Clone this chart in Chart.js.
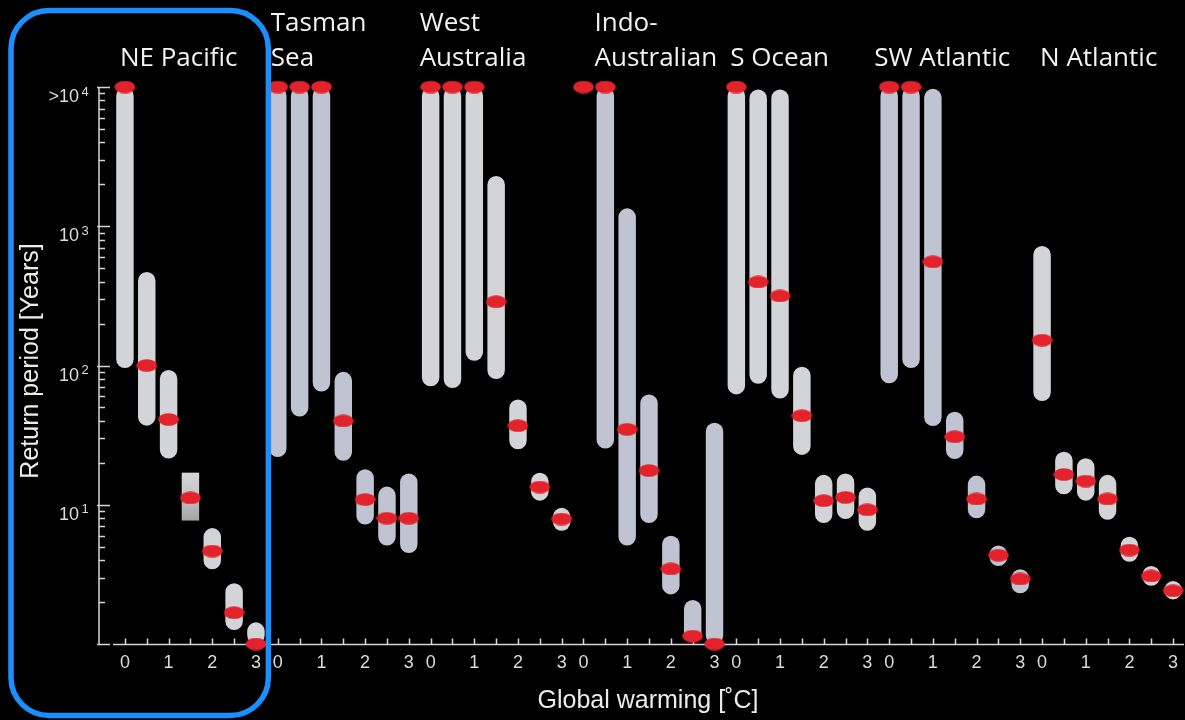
<!DOCTYPE html>
<html>
<head>
<meta charset="utf-8">
<title>Return period of marine heatwaves by region and warming level</title>
<script src="https://cdn.jsdelivr.net/npm/chart.js@4/dist/chart.umd.min.js"></script>
<style>
  html, body { margin: 0; padding: 0; background: #000; }
  #wrap { width: 1185px; height: 720px; position: relative; }
  canvas { display: block; }
</style>
</head>
<body>
<div id="wrap"><canvas id="chart" width="1185" height="720"></canvas></div>
<script>
// Ocean regions, left to right
const regions = ['NE Pacific', 'Tasman Sea', 'West Australia', 'Indo-Australian', 'S Ocean', 'SW Atlantic', 'N Atlantic'];
// How each region title is broken into lines
const regionTitleLines = [['NE Pacific'], ['Tasman', 'Sea'], ['West', 'Australia'], ['Indo-', 'Australian'], ['S Ocean'], ['SW Atlantic'], ['N Atlantic']];
// Global warming levels (°C) within each region
const warming = [0, 0.5, 1, 1.5, 2, 2.5, 3];
// Labels under the warming axis (only whole degrees are labelled)
const warmingTickLabels = ['0', '', '1', '', '2', '', '3'];

// Return period range, lower end (years); 7 values per region, null = no range bar
const lowerBound = [
  96,   37,   21.5, 7.7,  3.44, 1.26, 1.0,    // NE Pacific
  22,   43,   65,   20.7, 7.2,  5.1,  4.5,    // Tasman Sea
  71,   69,   108,  80,   25,   10.7, 6.5,    // West Australia
  null, 25.3, 5.1,  7.4,  2.27, 1.04, 1.0,    // Indo-Australian
  62,   74,   58,   22.8, 7.4,  7.9,  6.5,    // S Ocean
  74.5, 96,   36.8, 21.3, 8.0,  3.63, 2.31,   // SW Atlantic
  55.6, 11.9, 10.7, 7.8,  3.9,  2.62, 2.09    // N Atlantic
];
// Return period range, upper end (years)
const upperBound = [
  10000, 470,   93,    17,   6.8,  2.73, 1.43,
  10000, 10000, 10000, 90,   18,   13.5, 16.8,
  10000, 10000, 10000, 2300, 57,   17,   9.5,
  null,  10000, 1345,  62,   6.0,  2.07, 38.8,
  10000, 9600,  9600,  98,   16.4, 16.8, 13.3,
  10000, 10000, 9700,  46.6, 16.2, 5.1,  3.44,
  721,   24,    21.6,  16.4, 5.9,  3.63, 2.83
];
// Best estimate return period (years); 10000 stands for ">10^4"
const bestEstimate = [
  10000, 100,   41,    11.2, 4.65, 1.68, 1.0,
  10000, 10000, 10000, 40,   10.9, 8.0,  8.0,
  10000, 10000, 10000, 287,  37,   13.4, 7.9,
  10000, 10000, 34.8,  17.6, 3.46, 1.14, 1.0,
  10000, 398,   316,   43.6, 10.7, 11.3, 9.2,
  10000, 10000, 556,   30.8, 11.0, 4.34, 2.93,
  152,   16.5,  14.8,  11.0, 4.73, 3.08, 2.41
];

// Return period axis: decade ticks and their labels
const yTickValues = [10, 100, 1000, 10000];
const yTickBase = ['10', '10', '10', '>10'];
const yTickExp = ['1', '2', '3', '4'];

// ---- styling ----
const GREY = '#d2d4d7';
const BLUEGREY = '#bfc3d2';
const RED = '#e3222b';
const AXIS = '#d6d6d6';
const HIGHLIGHT = '#1a8fff';
const BOXED_BAR = 3;                       // NE Pacific 1.5 °C is drawn as a plain box
const titleNudge = [-5, -7, -11, 11, -6, -15, -2];

// one category per region / warming level
const labels = [];
const regionOf = [];
regions.forEach((r, ri) => warming.forEach((w, wi) => {
  labels.push(r + ' ' + w + '°C');
  regionOf.push(ri);
}));
const ranges = lowerBound.map((lo, i) => (lo === null ? null : [lo, upperBound[i]]));

// red ellipse used for the best estimate marker
function makeEllipse() {
  const c = document.createElement('canvas');
  c.width = 21; c.height = 13;
  const g = c.getContext('2d');
  g.fillStyle = RED;
  g.beginPath();
  g.ellipse(10.5, 6.5, 10.3, 6.3, 0, 0, Math.PI * 2);
  g.fill();
  return c;
}
const ellipse = makeEllipse();

function barColor(ctx) {
  const i = ctx.dataIndex;
  if (i === BOXED_BAR) {
    const chart = ctx.chart;
    const y = chart.scales && chart.scales.y;
    if (!chart.chartArea || !y || !isFinite(y.getPixelForValue(10))) return '#b8babd';
    const top = y.getPixelForValue(upperBound[i]);
    const bot = y.getPixelForValue(lowerBound[i]);
    const gr = chart.ctx.createLinearGradient(0, top, 0, bot);
    gr.addColorStop(0, '#d3d5d7');
    gr.addColorStop(0.45, '#c4c6c8');
    gr.addColorStop(1, '#a2a4a6');
    return gr;
  }
  return regionOf[i] % 2 === 0 ? GREY : BLUEGREY;
}

// axes, tick marks, titles and the highlight frame
const decorations = {
  id: 'decorations',
  beforeDatasetsDraw(chart) {
    const { ctx, chartArea: a, scales: { x, y } } = chart;
    ctx.save();
    ctx.strokeStyle = AXIS;
    ctx.fillStyle = AXIS;
    ctx.lineWidth = 1.5;
    const yAxisX = a.left - 15;
    // vertical axis with inward ticks
    ctx.beginPath();
    ctx.moveTo(yAxisX, y.getPixelForValue(10000));
    ctx.lineTo(yAxisX, y.getPixelForValue(1));
    for (let d = 0; d <= 4; d++) {
      const base = Math.pow(10, d);
      const py = Math.round(y.getPixelForValue(base)) + 0.5;
      ctx.moveTo(yAxisX - 2, py);
      ctx.lineTo(yAxisX + 11, py);
      if (d < 4) {
        for (let m = 2; m <= 9; m++) {
          const my = Math.round(y.getPixelForValue(base * m)) + 0.5;
          ctx.moveTo(yAxisX, my);
          ctx.lineTo(yAxisX + 6, my);
        }
      }
    }
    ctx.stroke();
    // horizontal axis with inward ticks
    const by = Math.round(y.getPixelForValue(1)) + 0.5;
    ctx.beginPath();
    ctx.moveTo(a.left - 1, by);
    ctx.lineTo(a.right, by);
    labels.forEach((_, i) => {
      const px = Math.round(x.getPixelForValue(i)) + 0.5;
      ctx.moveTo(px, by);
      ctx.lineTo(px, by - 6);
    });
    ctx.stroke();
    ctx.restore();
  },
  afterDraw(chart) {
    const { ctx, chartArea: a, scales: { x, y } } = chart;
    ctx.save();
    // decade labels
    ctx.fillStyle = '#dcdcdc';
    yTickValues.forEach((v, k) => {
      const py = y.getPixelForValue(v);
      ctx.font = '18px "Liberation Sans", Arial, sans-serif';
      ctx.textAlign = 'right';
      ctx.textBaseline = 'alphabetic';
      ctx.fillText(yTickBase[k], 79, py + 15);
      ctx.font = '13px "Liberation Sans", Arial, sans-serif';
      ctx.textAlign = 'left';
      ctx.fillText(yTickExp[k], 81.5, py + 8.5);
    });
    // warming labels
    ctx.font = '18px "Liberation Sans", Arial, sans-serif';
    ctx.textAlign = 'center';
    labels.forEach((_, i) => {
      const t = warmingTickLabels[i % warming.length];
      if (t) ctx.fillText(t, x.getPixelForValue(i), a.bottom + 24);
    });
    // axis titles
    ctx.fillStyle = '#ececec';
    ctx.font = '25px "Liberation Sans", Arial, sans-serif';
    ctx.fillText('Global warming [˚C]', 648, 708);
    ctx.save();
    ctx.translate(37.5, 361);
    ctx.rotate(-Math.PI / 2);
    ctx.fillText('Return period [Years]', 0, 0);
    ctx.restore();
    // region titles
    ctx.fillStyle = '#f2f2f2';
    ctx.font = '26px "Open Sans", "Noto Sans", sans-serif';
    ctx.textAlign = 'left';
    regionTitleLines.forEach((lines, ri) => {
      const px = x.getPixelForValue(ri * warming.length) + titleNudge[ri];
      lines.forEach((line, li) => {
        const base = 66 - (lines.length - 1 - li) * 35;
        ctx.fillText(line, px, base);
      });
    });
    // highlight frame around the first region
    const right = (x.getPixelForValue(warming.length - 1) + x.getPixelForValue(warming.length)) / 2 + 1.5;
    ctx.strokeStyle = HIGHLIGHT;
    ctx.lineWidth = 5.5;
    ctx.beginPath();
    ctx.roundRect(11, 10.5, right - 11, 705, 38);
    ctx.stroke();
    ctx.restore();
  }
};

new Chart(document.getElementById('chart'), {
  type: 'bar',
  data: {
    labels: labels,
    datasets: [
      {
        label: 'Range',
        data: ranges,
        backgroundColor: barColor,
        borderWidth: 0,
        borderSkipped: false,
        borderRadius: (ctx) => (ctx.dataIndex === BOXED_BAR ? 0 : 20),
        barPercentage: 0.8,
        categoryPercentage: 1.0,
        clip: false,
        order: 2
      },
      {
        type: 'line',
        label: 'Best estimate',
        data: bestEstimate,
        showLine: false,
        pointStyle: ellipse,
        pointRadius: 10,
        clip: false,
        order: 1
      }
    ]
  },
  options: {
    responsive: false,
    animation: false,
    events: [],
    layout: { autoPadding: false, padding: { left: 114, right: 1, top: 87, bottom: 76 } },
    plugins: { legend: { display: false }, tooltip: { enabled: false } },
    scales: {
      x: { type: 'category', display: false, offset: true },
      y: { type: 'logarithmic', display: false, min: 1, max: 10000 }
    }
  },
  plugins: [decorations]
});
</script>
</body>
</html>
